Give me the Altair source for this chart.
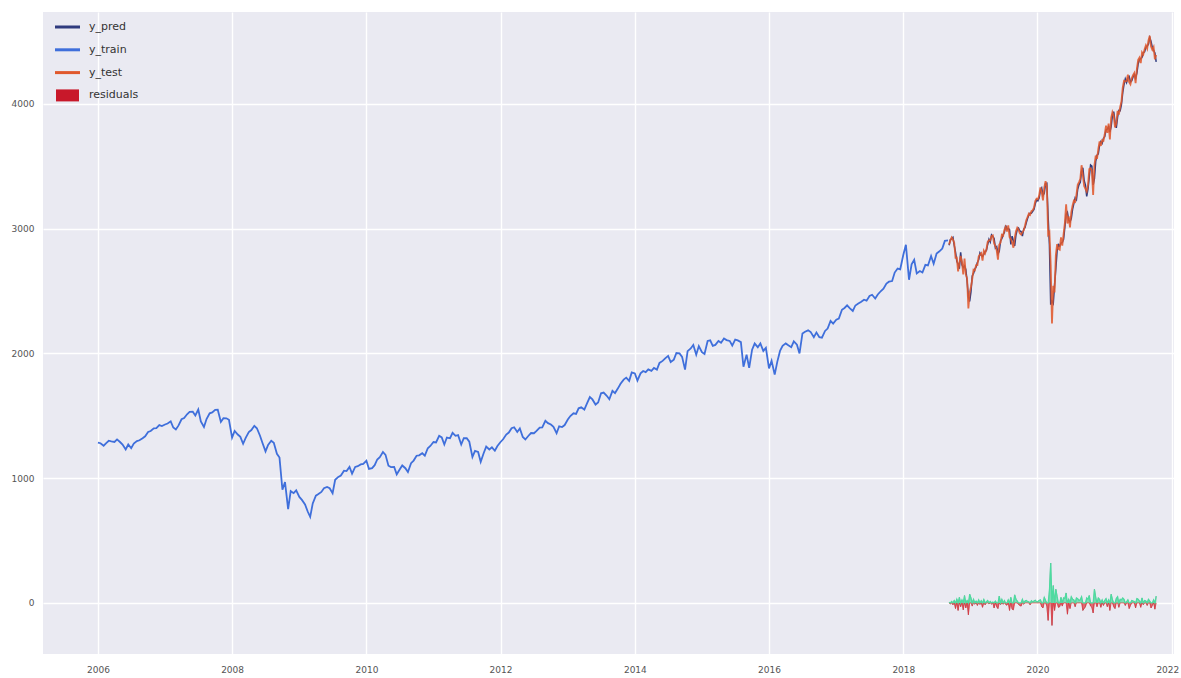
import altair as alt
import pandas as pd

# Training window: index closes, twice a month (1st and 15th), Jan 2006 - Sep 2018
train_start = "2006-01-01"
y_train = [
    1285, 1280, 1260, 1281, 1300, 1295, 1290, 1311, 1290, 1270, 1230, 1270,
    1240, 1277, 1297, 1304, 1320, 1336, 1370, 1378, 1400, 1401, 1425, 1418,
    1430, 1438, 1456, 1406, 1390, 1421, 1472, 1482, 1512, 1531, 1533, 1503,
    1550, 1455, 1410, 1474, 1520, 1527, 1548, 1549, 1451, 1481, 1480, 1468,
    1325, 1378, 1350, 1331, 1276, 1323, 1370, 1386, 1420, 1400, 1340, 1280,
    1215, 1267, 1300, 1283, 1195, 1165, 907, 969, 752, 896, 880, 903,
    850, 826, 790, 735, 690, 798, 860, 873, 890, 919, 930, 919,
    880, 987, 1010, 1021, 1060, 1057, 1090, 1036, 1090, 1096, 1110, 1115,
    1140, 1074, 1080, 1104, 1150, 1169, 1210, 1187, 1100, 1089, 1090, 1031,
    1070, 1102, 1080, 1049, 1120, 1141, 1180, 1183, 1200, 1181, 1240, 1258,
    1290, 1286, 1340, 1327, 1270, 1326, 1320, 1364, 1340, 1345, 1270, 1321,
    1320, 1292, 1170, 1219, 1210, 1131, 1200, 1253, 1230, 1247, 1220, 1258,
    1290, 1312, 1350, 1366, 1400, 1408, 1370, 1398, 1330, 1310, 1340, 1362,
    1360, 1379, 1405, 1407, 1460, 1441, 1430, 1412, 1360, 1416, 1410, 1426,
    1470, 1498, 1520, 1515, 1560, 1569, 1550, 1598, 1650, 1631, 1590, 1606,
    1680, 1686, 1660, 1633, 1700, 1682, 1720, 1757, 1790, 1806, 1780, 1848,
    1840, 1783, 1840, 1859, 1850, 1872, 1860, 1884, 1870, 1924, 1940, 1960,
    1980, 1931, 1950, 2003, 2000, 1972, 1870, 2018, 2040, 2068, 1990, 2059,
    2010, 1995, 2100, 2105, 2060, 2068, 2100, 2086, 2120, 2107, 2100, 2063,
    2110, 2104, 2090, 1893, 1990, 1884, 2030, 2079, 2050, 2080, 2020, 2044,
    1880, 1940, 1830, 1932, 2020, 2060, 2080, 2065, 2050, 2097, 2070, 2000,
    2160, 2174, 2185, 2171, 2130, 2168, 2130, 2126, 2180, 2199, 2260, 2239,
    2270, 2279, 2350, 2364, 2385, 2363, 2340, 2384, 2400, 2412, 2430, 2423,
    2460, 2470, 2440, 2472, 2500, 2519, 2560, 2575, 2580, 2648, 2680, 2674,
    2790, 2870, 2590, 2714, 2750, 2641, 2660, 2648, 2710, 2705, 2780, 2718,
    2800, 2816, 2840, 2902, 2905,
]

# Test window: weekly closes, Sep 2018 - Oct 2021
test_start = "2018-09-07"
y_test = [
    2872, 2904, 2930, 2914, 2886, 2767, 2768, 2658, 2723, 2781, 2736, 2633,
    2760, 2633, 2600, 2360, 2486,
    2532, 2596, 2671, 2665, 2707, 2708, 2776, 2793, 2804, 2743, 2822, 2801,
    2834, 2893, 2907, 2905, 2940, 2946, 2881, 2860, 2826, 2752, 2873, 2887,
    2950, 2942, 2990, 3014, 2977, 3026, 2932, 2919, 2889, 2847, 2926, 2979,
    3007, 2992, 2962, 2952, 2970, 2986, 3023, 3067, 3093, 3120, 3110, 3141,
    3146, 3169, 3221, 3240,
    3235, 3265, 3330, 3295, 3226, 3328, 3380, 3338, 2954, 2972, 2711, 2240,
    2541, 2489, 2790, 2875, 2837, 2831, 2930, 2864, 2955, 3044, 3194, 3041,
    3098, 3009, 3130, 3185, 3225, 3216, 3271, 3351, 3373, 3397, 3508, 3427,
    3341, 3319, 3298, 3348, 3477, 3484, 3465, 3270, 3510, 3585, 3558, 3638,
    3699, 3663, 3709, 3703,
    3756, 3825, 3768, 3841, 3714, 3887, 3934, 3907, 3811, 3842, 3943, 3913,
    3975, 4019, 4129, 4185, 4180, 4181, 4233, 4174, 4156, 4204, 4230, 4247,
    4166, 4281, 4352, 4370, 4327, 4412, 4395, 4437, 4468, 4442, 4509, 4545,
    4459, 4433, 4455, 4357, 4391,
]

# Model residuals (y_test - y_pred) for each test week
residuals = [
    5, -8, 12, -15, 20, -45, 30, -60, 45, -30, 25, -55, 60, -40, 20, -95, 70,
    40, -25, 30, -10, 15, -20, 25, -12, 18, -35, 28, -15, 10, 20, -8, 12, -10,
    8, -40, 15, -30, -45, 55, -15, 30, -10, 20, -12, -18, 25, -60, 45, -50,
    -55, 65, 30, 15, -12, -20, -25, 30, -10, 15, 20, 12, 10, -15, 18, 8, 15,
    22, 10,
    12, 20, 25, -30, -40, 45, 20, -25, -140, 100, 320, -180, 140, -60, 110,
    50, -35, -30, 45, -25, 40, 35, 80, -90, 30, -45, 50, 30, 25, -30, 40, 35,
    20, 25, 50, -60, -45, -30, 40, 30, 60, -25, -35, -80, 110, 45, -30, 40,
    30, -35, 25, -20,
    20, 35, -30, 25, -60, 70, 25, -30, -45, 35, 50, -35, 30, 25, 40, 30, -20,
    10, 25, -45, -20, 20, 15, 12, -40, 35, 30, 15, -35, 40, -15, 20, 15, -20,
    30, 15, -40, -20, 25, -50, 55,
]

series_names = ["y_pred", "y_train", "y_test", "residuals"]
series_colors = ["#2f3b7e", "#3f6fdb", "#e0582c", "#c8182a"]
line_symbol = "M-1.25,-0.15H1.25V0.15H-1.25Z"
box_symbol = "M-1.15,-0.6H1.15V0.6H-1.15Z"

PANEL_BG = "#eaeaf2"
POS_GREEN = "#4cdca0"
NEG_RED = "#e0303a"

train_df = pd.DataFrame({
    "date": pd.date_range(train_start, periods=len(y_train), freq="SMS"),
    "value": y_train,
})
test_df = pd.DataFrame({
    "date": pd.date_range(test_start, periods=len(y_test), freq="7D"),
    "y_test": y_test,
    "residual": residuals,
})
legend_df = pd.DataFrame({"series": series_names})

x_scale = alt.Scale(domain=[alt.DateTime(year=2005, month=3, date=8),
                            alt.DateTime(year=2022, month=1, date=13)])
y_scale = alt.Scale(domain=[-409, 4736], nice=False, zero=False)

# the last year label sits close to the right edge, so it is flushed inward
x_axis = alt.Axis(
    values=[alt.DateTime(year=y, month=1, date=1) for y in range(2006, 2023, 2)],
    format="%Y", title=None, labelPadding=11, labelFlush=6, labelFlushOffset=7,
)
y_axis = alt.Axis(values=[0, 1000, 2000, 3000, 4000], format="d", title=None,
                  labelPadding=9)

X = alt.X("date:T", scale=x_scale, axis=x_axis)

train_line = alt.Chart(train_df).mark_line(
    color=series_colors[1], strokeWidth=1.8
).encode(x=X, y=alt.Y("value:Q", scale=y_scale, axis=y_axis))

test_base = alt.Chart(test_df).transform_calculate(
    y_pred="datum.y_test - datum.residual",
    pos="max(datum.residual, 0)",
    neg="min(datum.residual, 0)",
)

pred_line = test_base.mark_line(color=series_colors[0], strokeWidth=1.5).encode(
    x=X, y=alt.Y("y_pred:Q", scale=y_scale, axis=y_axis))
test_line = test_base.mark_line(color=series_colors[2], strokeWidth=1.8,
                                opacity=0.88).encode(
    x=X, y=alt.Y("y_test:Q", scale=y_scale, axis=y_axis))

pos_area = test_base.mark_area(color=POS_GREEN, opacity=0.7).encode(
    x=X, y=alt.Y("pos:Q", scale=y_scale, axis=y_axis), y2=alt.datum(0))
neg_area = test_base.mark_area(color=NEG_RED, opacity=0.7).encode(
    x=X, y=alt.Y("neg:Q", scale=y_scale, axis=y_axis), y2=alt.datum(0))
pos_edge = test_base.mark_line(color=POS_GREEN, strokeWidth=1.2).encode(
    x=X, y=alt.Y("pos:Q", scale=y_scale, axis=y_axis))
neg_edge = test_base.mark_line(color=NEG_RED, strokeWidth=1, opacity=0.7).encode(
    x=X, y=alt.Y("neg:Q", scale=y_scale, axis=y_axis))
resid_line = test_base.mark_line(color="#3a3a3a", strokeWidth=0.7, opacity=0.5).encode(
    x=X, y=alt.Y("residual:Q", scale=y_scale, axis=y_axis))

legend_props = dict(
    title=None, orient="none", legendX=14.5, legendY=5, symbolSize=400,
    symbolStrokeWidth=0, symbolOpacity=1, labelFontSize=11,
    labelFont="DejaVu Sans", labelColor="#333333", labelOffset=11.5,
    rowPadding=7.8, padding=0,
)
legend_layer = alt.Chart(legend_df).mark_point(filled=True, opacity=0).encode(
    color=alt.Color("series:N",
                    scale=alt.Scale(domain=series_names, range=series_colors),
                    legend=alt.Legend(**legend_props)),
    shape=alt.Shape("series:N",
                    scale=alt.Scale(domain=series_names,
                                    range=[line_symbol, line_symbol,
                                           line_symbol, box_symbol]),
                    legend=alt.Legend(**legend_props)),
)

chart = alt.layer(
    train_line, pred_line, test_line, resid_line, neg_area, pos_area,
    neg_edge, pos_edge, legend_layer,
).properties(
    width=1131, height=642,
    autosize=alt.AutoSizeParams(type="none"),
    padding={"left": 43, "top": 12, "right": 7, "bottom": 24},
    background="white",
    view=alt.ViewBackground(fill=PANEL_BG, stroke="transparent", strokeWidth=0),
).configure_view(
    fill=PANEL_BG, stroke="transparent", strokeWidth=0,
).configure_axis(
    grid=True, gridColor="white", gridWidth=1.4, domain=False, ticks=False,
    labelFont="DejaVu Sans", labelFontSize=9, labelColor="#555555",
)

chart.save("out.html", embed_options={"renderer": "svg", "actions": False})
